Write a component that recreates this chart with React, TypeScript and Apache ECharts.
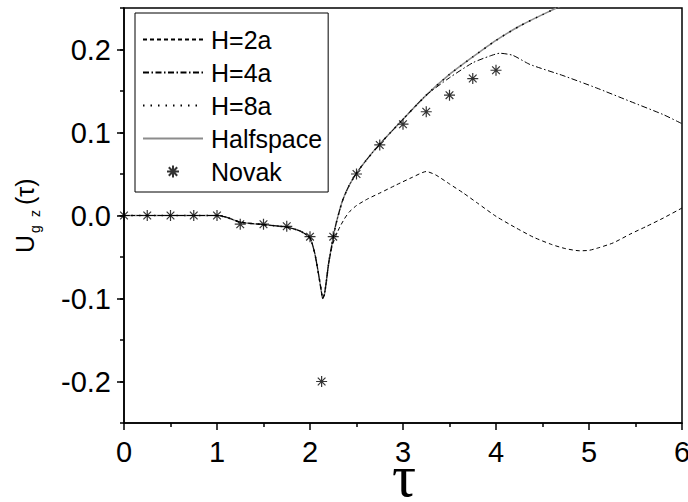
import React, { useEffect, useRef } from 'react';
import * as echarts from 'echarts';

// Halfspace / H=8a (identical in the early part)
const tauHalf = [0, 0.25, 0.5, 0.75, 1.0, 1.1, 1.25, 1.5, 1.75, 1.9, 2.0, 2.05, 2.085, 2.12, 2.137, 2.155, 2.175, 2.2, 2.24, 2.28, 2.35, 2.42, 2.5, 2.6, 2.75, 2.9, 3.0, 3.25, 3.5, 3.75, 4.0, 4.25, 4.5, 4.75, 5.0];
const halfspace = [0, 0, 0, 0, 0, -0.002, -0.008, -0.011, -0.014, -0.019, -0.027, -0.045, -0.066, -0.09, -0.1, -0.095, -0.08, -0.058, -0.032, -0.01, 0.018, 0.036, 0.051, 0.066, 0.086, 0.104, 0.116, 0.145, 0.17, 0.191, 0.211, 0.228, 0.242, 0.255, 0.267];
const h8a = [0, 0, 0, 0, 0, -0.002, -0.008, -0.011, -0.014, -0.019, -0.027, -0.045, -0.066, -0.09, -0.1, -0.095, -0.08, -0.058, -0.032, -0.01, 0.018, 0.036, 0.051, 0.066, 0.086, 0.104, 0.116, 0.145, 0.17, 0.191, 0.211, 0.228, 0.242, 0.255, 0.267];

const tau4a = [0, 0.25, 0.5, 0.75, 1.0, 1.1, 1.25, 1.5, 1.75, 1.9, 2.0, 2.05, 2.085, 2.12, 2.137, 2.155, 2.175, 2.2, 2.24, 2.28, 2.35, 2.42, 2.5, 2.6, 2.75, 2.9, 3.0, 3.25, 3.5, 3.75, 3.93, 4.04, 4.18, 4.365, 4.72, 5.08, 5.44, 5.8, 6.0];
const h4a = [0, 0, 0, 0, 0, -0.002, -0.008, -0.011, -0.014, -0.019, -0.027, -0.045, -0.066, -0.09, -0.1, -0.095, -0.08, -0.058, -0.032, -0.01, 0.018, 0.036, 0.051, 0.066, 0.086, 0.104, 0.116, 0.145, 0.166, 0.184, 0.192, 0.1955, 0.193, 0.182, 0.1686, 0.1537, 0.1376, 0.1215, 0.1106];

const tau2a = [0, 0.25, 0.5, 0.75, 1.0, 1.1, 1.25, 1.5, 1.75, 1.9, 2.0, 2.05, 2.085, 2.12, 2.137, 2.155, 2.175, 2.2, 2.24, 2.28, 2.32, 2.37, 2.42, 2.5, 2.62, 2.75, 2.93, 3.1, 3.25, 3.35, 3.5, 3.65, 3.8, 4.0, 4.2, 4.4, 4.6, 4.75, 4.9, 5.0, 5.1, 5.26, 5.45, 5.62, 5.8, 6.0];
const h2a = [0, 0, 0, 0, 0, -0.002, -0.008, -0.011, -0.014, -0.019, -0.027, -0.045, -0.066, -0.09, -0.1, -0.095, -0.08, -0.058, -0.036, -0.024, -0.014, -0.004, 0.004, 0.012, 0.02, 0.027, 0.037, 0.046, 0.053, 0.049, 0.038, 0.027, 0.015, -0.001, -0.014, -0.026, -0.035, -0.04, -0.0425, -0.042, -0.039, -0.033, -0.022, -0.013, -0.003, 0.009];

const tauNovak = [0, 0.25, 0.5, 0.75, 1.0, 1.25, 1.5, 1.75, 2.0, 2.125, 2.25, 2.5, 2.75, 3.0, 3.25, 3.5, 3.75, 4.0];
const novak = [0, 0, 0, 0, 0, -0.0105, -0.0105, -0.013, -0.0255, -0.2, -0.0255, 0.05, 0.085, 0.11, 0.125, 0.145, 0.165, 0.175];

const xTicks = [0, 1, 2, 3, 4, 5, 6];
const yMajorTicks = [-0.2, -0.1, 0, 0.1, 0.2];
const legendNames = ['H=2a', 'H=4a', 'H=8a', 'Halfspace', 'Novak'];

const zip = (xs: number[], ys: number[]) => xs.map((x, i) => [x, ys[i]]);

const STAR = 'path://M5,0L5,10M0,5L10,5M1.5,1.5L8.5,8.5M1.5,8.5L8.5,1.5';
const FONT = 'Liberation Sans';

export default function App() {
  const ref = useRef<HTMLDivElement>(null);
  useEffect(() => {
    if (!ref.current) return;
    const chart = echarts.init(ref.current, undefined, { renderer: 'svg' });
    const lineBase = { type: 'line', symbol: 'none', smooth: 0.2, clip: true, z: 3 };
    chart.setOption({
      animation: false,
      backgroundColor: '#fff',
      grid: { left: 124, right: 6, top: 8, bottom: 79, show: true, borderColor: '#000', borderWidth: 1.5, backgroundColor: 'transparent', containLabel: false, outerBoundsMode: 'none' },
      legend: {
        orient: 'vertical', left: 135, top: 13,
        data: legendNames.map((n) => (n === 'Novak' ? { name: n } : { name: n, itemStyle: { opacity: 0 } })),
        itemWidth: 60, itemHeight: 12, itemGap: 8,
        padding: [14, 6, 8, 7],
        borderColor: '#000', borderWidth: 1, borderRadius: 0,
        backgroundColor: '#fff',
        selectedMode: false,
        textStyle: { fontSize: 25, fontFamily: FONT, color: '#000', padding: [0, 0, 0, 3] },
      },
      xAxis: {
        type: 'value', min: 0, max: 6, interval: 1,
        axisLine: { onZero: false, lineStyle: { color: '#000', width: 1.5 } },
        axisTick: { length: 7, lineStyle: { color: '#000', width: 1.5 }, customValues: xTicks },
        minorTick: { show: true, splitNumber: 2, length: 4, lineStyle: { color: '#000', width: 1.5 } },
        splitLine: { show: false },
        axisLabel: { fontSize: 29, fontFamily: FONT, color: '#000', margin: 16, lineHeight: 26, customValues: xTicks },
      },
      yAxis: [
        {
          type: 'value', min: -0.25, max: 0.25, interval: 0.05,
          axisLine: { onZero: false, lineStyle: { color: '#000', width: 1.5 } },
          axisTick: { length: 4, lineStyle: { color: '#000', width: 1.5 } },
          splitLine: { show: false },
          axisLabel: { fontSize: 29, fontFamily: FONT, color: '#000', margin: 13, customValues: yMajorTicks, formatter: (v: number) => v.toFixed(1) },
        },
        {
          type: 'value', min: -0.25, max: 0.25, interval: 0.05, position: 'left',
          axisLine: { show: false },
          axisTick: { show: true, length: 7, lineStyle: { color: '#000', width: 1.5 }, customValues: yMajorTicks },
          axisLabel: { show: false },
          splitLine: { show: false },
        },
      ],
      graphic: [
        {
          type: 'text', x: 404, y: 476,
          style: { text: 'τ', fontSize: 60, lineHeight: 22, fontFamily: 'Liberation Serif', fill: '#000', align: 'center', verticalAlign: 'middle' },
        },
        {
          type: 'group', x: 32, y: 253, rotation: Math.PI / 2,
          children: [
            { type: 'text', x: 0, y: 5, style: { text: 'U', fontSize: 25, fontFamily: FONT, fill: '#000', verticalAlign: 'bottom' } },
            { type: 'text', x: 20, y: 10, style: { text: 'g', fontSize: 14, fontFamily: FONT, fill: '#000', verticalAlign: 'bottom' } },
            { type: 'text', x: 36, y: 10, style: { text: 'z', fontSize: 14, fontFamily: FONT, fill: '#000', verticalAlign: 'bottom' } },
            { type: 'text', x: 48, y: 5, style: { text: '(τ)', fontSize: 25, fontFamily: FONT, fill: '#000', verticalAlign: 'bottom' } },
          ],
        },
      ],
      series: [
        { ...lineBase, name: 'Halfspace', data: zip(tauHalf, halfspace), color: '#8c8c8c', lineStyle: { color: '#8c8c8c', width: 1.5, type: 'solid' } },
        { ...lineBase, name: 'H=8a', data: zip(tauHalf, h8a), color: '#000', lineStyle: { color: '#000', width: 1.5, type: [1.5, 6] } },
        { ...lineBase, name: 'H=4a', data: zip(tau4a, h4a), color: '#000', lineStyle: { color: '#000', width: 1, type: [6, 2.5, 1.5, 2.5] } },
        { ...lineBase, name: 'H=2a', data: zip(tau2a, h2a), color: '#000', lineStyle: { color: '#000', width: 1, type: [4, 3] } },
        {
          type: 'scatter', name: 'Novak', data: zip(tauNovak, novak), symbol: STAR, symbolSize: 11, z: 5, clip: false,
          color: '#000',
          itemStyle: { color: 'transparent', borderColor: '#000', borderWidth: 1.2 },
        },
      ],
    });
    return () => chart.dispose();
  }, []);
  return <div ref={ref} style={{ position: 'fixed', left: 0, top: 0, width: 688, height: 502 }} />;
}
